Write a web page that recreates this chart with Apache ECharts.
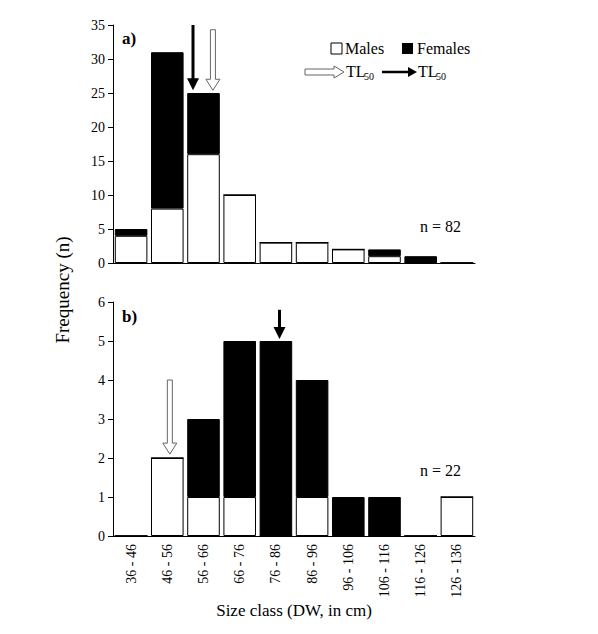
<!DOCTYPE html>
<html><head><meta charset="utf-8">
<script src="https://cdn.jsdelivr.net/npm/echarts@6/dist/echarts.min.js"></script>
<style>html,body{margin:0;background:#fff}#c{width:598px;height:634px}</style>
</head><body><div id="c"></div>
<script>
var classes = ['36 - 46','46 - 56','56 - 66','66 - 76','76 - 86','86 - 96','96 - 106','106 - 116','116 - 126','126 - 136'];
var malesA = [4, 8, 16, 10, 3, 3, 2, 1, 0, 0];
var femalesA = [1, 23, 9, 0, 0, 0, 0, 1, 1, 0];
var malesB = [0, 2, 1, 1, 0, 1, 0, 0, 0, 1];
var femalesB = [0, 0, 2, 4, 5, 3, 1, 1, 0, 0];
// arrows: [grid, category position, top value, bottom value, black?]
var arrows = [
  [0, 1.71, 35, 25.4, true],
  [0, 2.26, 34.3, 25.4, false],
  [1, 1.07, 4.0, 2.1, false],
  [1, 4.1, 5.8, 5.05, true]
];

var font = 'Liberation Serif';
var dom = document.getElementById('c');
var myChart = echarts.init(dom, null, {renderer: 'svg'});

function yAx(idx, max, interval) {
  return {gridIndex: idx, min: 0, max: max, interval: interval,
    axisLine: {show: true, lineStyle: {color: '#000'}}, axisTick: {show: true, lineStyle: {color: '#000'}},
    splitLine: {show: false}, axisLabel: {color: '#000', fontFamily: font, fontSize: 14}};
}
function xAx(idx, showLabels) {
  return {gridIndex: idx, type: 'category', data: classes,
    axisLine: {lineStyle: {color: '#000'}}, axisTick: {show: false},
    axisLabel: {show: showLabels, rotate: 90, color: '#000', fontFamily: font, fontSize: 14, interval: 0}};
}
function bar(name, x, data, color) {
  return {name: name, type: 'bar', stack: 's' + x, xAxisIndex: x, yAxisIndex: x, data: data,
    barWidth: '90%', itemStyle: {color: color, borderColor: '#000', borderWidth: 1}};
}

var option = {
  animation: false,
  grid: [
    {left: 113, top: 25, width: 362, height: 238},
    {left: 113, top: 302, width: 362, height: 234}
  ],
  xAxis: [xAx(0, false), xAx(1, true)],
  yAxis: [yAx(0, 35, 5), yAx(1, 6, 1)],
  series: [
    bar('Males', 0, malesA, '#fff'), bar('Females', 0, femalesA, '#000'),
    bar('Males', 1, malesB, '#fff'), bar('Females', 1, femalesB, '#000')
  ]
};
myChart.setOption(option);

function arrowShapes(x, yt, yb, black) {
  if (black) {
    return [
      {type: 'line', shape: {x1: x, y1: yt, x2: x, y2: yb - 10}, style: {stroke: '#000', lineWidth: 3}},
      {type: 'polygon', shape: {points: [[x - 6, yb - 12], [x + 6, yb - 12], [x, yb]]}, style: {fill: '#000'}}
    ];
  }
  return [{type: 'polygon', shape: {points: [[x - 2.5, yt], [x + 2.5, yt], [x + 2.5, yb - 11], [x + 7, yb - 11], [x, yb], [x - 7, yb - 11], [x - 2.5, yb - 11]]},
    style: {fill: '#fff', stroke: '#666', lineWidth: 1}}];
}

var g = [];
arrows.forEach(function (a) {
  var p0 = myChart.convertToPixel({xAxisIndex: a[0], yAxisIndex: a[0]}, [0, a[2]]);
  var p1 = myChart.convertToPixel({xAxisIndex: a[0], yAxisIndex: a[0]}, [1, a[3]]);
  var step = p1[0] - p0[0];
  g = g.concat(arrowShapes(p0[0] + step * a[1], p0[1], p1[1], a[4]));
});
var ts = {fill: '#000', font: '16px "Liberation Serif"'};
g.push(
  {type: 'text', left: 122, top: 30, style: {text: 'a)', fill: '#000', font: 'bold 17px "Liberation Serif"'}},
  {type: 'text', left: 122, top: 308, style: {text: 'b)', fill: '#000', font: 'bold 17px "Liberation Serif"'}},
  {type: 'text', left: 420, top: 218, style: Object.assign({text: 'n = 82'}, ts)},
  {type: 'text', left: 420, top: 462, style: Object.assign({text: 'n = 22'}, ts)},
  {type: 'rect', shape: {x: 331, y: 43, width: 11, height: 11}, style: {fill: '#fff', stroke: '#000'}},
  {type: 'text', left: 345, top: 40, style: Object.assign({text: 'Males'}, ts)},
  {type: 'rect', shape: {x: 402, y: 43, width: 11, height: 11}, style: {fill: '#000'}},
  {type: 'text', left: 417, top: 40, style: Object.assign({text: 'Females'}, ts)},
  {type: 'polygon', shape: {points: [[305, 69], [334, 69], [334, 66], [344, 72], [334, 78], [334, 75], [305, 75]]}, style: {fill: '#fff', stroke: '#666'}},
  {type: 'text', left: 346, top: 63, style: {text: 'TL', fill: '#000', font: '16px "Liberation Serif"'}},
  {type: 'text', left: 364, top: 71, style: {text: '50', fill: '#000', font: '10px "Liberation Serif"'}},
  {type: 'line', shape: {x1: 382, y1: 72, x2: 410, y2: 72}, style: {stroke: '#000', lineWidth: 2.5}},
  {type: 'polygon', shape: {points: [[408, 67], [417, 72], [408, 77]]}, style: {fill: '#000'}},
  {type: 'text', left: 418, top: 63, style: {text: 'TL', fill: '#000', font: '16px "Liberation Serif"'}},
  {type: 'text', left: 436, top: 71, style: {text: '50', fill: '#000', font: '10px "Liberation Serif"'}},
  {type: 'text', x: 62, y: 290, rotation: Math.PI / 2, style: {text: 'Frequency (n)', fill: '#000', font: '19px "Liberation Serif"', align: 'center', verticalAlign: 'middle'}},
  {type: 'text', x: 294, y: 610, style: {text: 'Size class (DW, in cm)', fill: '#000', font: '17px "Liberation Serif"', align: 'center', verticalAlign: 'middle'}}
);
myChart.setOption({graphic: g});
window.addEventListener('resize', myChart.resize);
</script>
</body></html>
